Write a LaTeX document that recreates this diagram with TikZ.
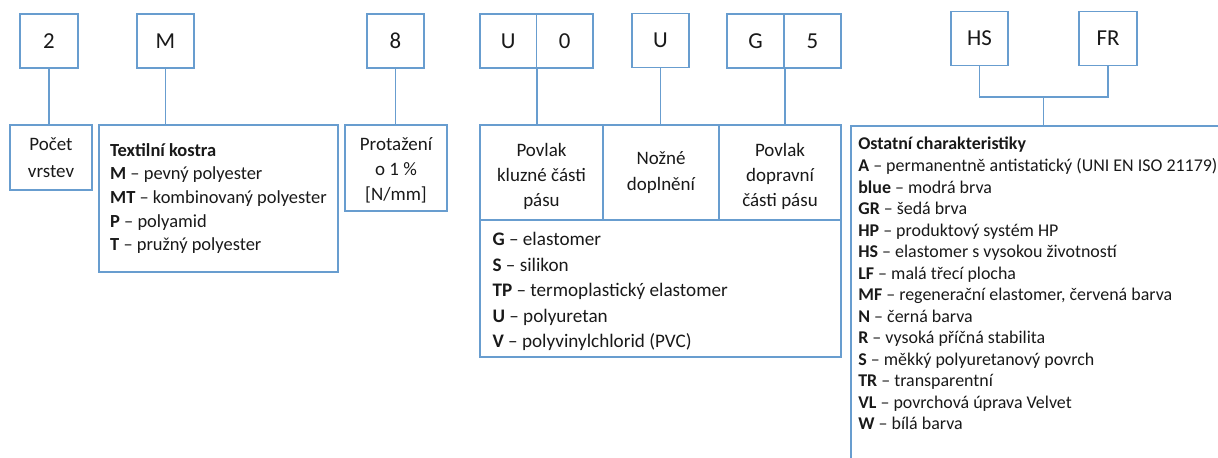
\documentclass[tikz,border=0pt]{standalone}
\usepackage{fontspec}
\setmainfont{Carlito}
\usepackage{tikz}
\definecolor{Frame}{RGB}{104,157,207}
\definecolor{Ink}{RGB}{25,25,25}
\newcommand{\Item}[2]{\textbf{#1} -- #2}% code, meaning
\newcommand{\Fs}[2]{\fontsize{#1}{#2}\selectfont}% size, skip
\newcommand{\Lift}[1]{\rule{0pt}{#1}}% taller first line, text sits lower
\tikzset{
  codebox/.style={draw=Frame,line width=1.1pt,inner sep=0pt,text=Ink,
    minimum width=1.14cm,minimum height=1.08cm,font=\Fs{13}{15}},
  infobox/.style={draw=Frame,line width=1.1pt,inner sep=0pt,text=Ink,align=center},
  listbox/.style={infobox,align=flush left,inner xsep=0.25cm},
  link/.style={draw=Frame,line width=1.1pt},
}

\begin{document}
\begin{tikzpicture}[x=0.02cm,y=-0.02cm]
\useasboundingbox (0,0) rectangle (1218,457);
% code letters on the top row
\node[codebox,minimum width=1.16cm] (vrstvy) at (49,41) {2};
\node[codebox] (tkanina) at (165.5,41) {M};
\node[codebox] (tazeni) at (395.5,41) {8};
\node[codebox,minimum width=1.13cm] (kluzU) at (508.25,41) {U};
\node[codebox,minimum width=1.13cm] (kluz0) at (564.75,41) {0};
\node[codebox] (doplnek) at (660.5,40.5) {U};
\node[codebox] (doprG) at (755.5,41) {G};
\node[codebox] (dopr5) at (812.5,41) {5};
\node[codebox] (hs) at (979.5,38.5) {HS};
\node[codebox,minimum width=1.16cm] (fr) at (1108,38.5) {FR};

% explanation boxes
\node[infobox,minimum width=1.64cm,minimum height=1.3cm,font=\Fs{10.8}{15.3}]
  (pocet) at (51,157.5) {Počet\\vrstev};
\node[infobox,align=flush left,minimum width=4.78cm,minimum height=2.94cm,font=\Fs{10.5}{13.4}]
  (kostra) at (218.5,198.5) {\textbf{Textilní kostra}\\
  \Item{M}{pevný polyester}\\
  \Item{MT}{kombinovaný polyester}\\
  \Item{P}{polyamid}\\
  \Item{T}{pružný polyester}};
\node[infobox,minimum width=2.04cm,minimum height=1.72cm,font=\Fs{10.8}{14.5}]
  (protazeni) at (396,168) {\Lift{10pt}Protažení\\o 1 \%\\{[N/mm]}};

\node[infobox,minimum width=2.46cm,minimum height=1.9cm,font=\Fs{10.8}{14.5}]
  (kluzna) at (541.5,172.5) {\Lift{12pt}Povlak\\kluzné části\\pásu};
\node[infobox,minimum width=2.32cm,minimum height=1.9cm,font=\Fs{10.8}{14.5}]
  (nozne) at (661,172.5) {Nožné\\doplnění};
\node[infobox,minimum width=2.44cm,minimum height=1.9cm,font=\Fs{10.8}{14.5}]
  (dopravni) at (780,172.5) {\Lift{12pt}Povlak\\dopravní\\části pásu};
\node[listbox,text width=6.72cm,minimum height=2.74cm,font=\Fs{10.9}{14.5}]
  (povlaky) at (660.5,288.5) {\Lift{11pt}\Item{G}{elastomer}\\
  \Item{S}{silikon}\\
  \Item{TP}{termoplastický elastomer}\\
  \Item{U}{polyuretan}\\
  \Item{V}{polyvinylchlorid (PVC)}};

% the last box runs past the page edge
\begin{scope}
\clip (0,0) rectangle (1218,457);
\node[infobox,anchor=north west,minimum width=8cm,minimum height=7.2cm] (ostatni) at (850,125) {};
\end{scope}
\node[anchor=north west,inner sep=0pt,align=flush left,text=Ink,font=\Fs{10.2}{12.25}]
  (ostatnitext) at (858,137) {\textbf{Ostatní charakteristiky}\\
  \Item{A}{permanentně antistatický (UNI EN ISO 21179)}\\
  \Item{blue}{modrá brva}\\
  \Item{GR}{šedá brva}\\
  \Item{HP}{produktový systém HP}\\
  \Item{HS}{elastomer s vysokou životností}\\
  \Item{LF}{malá třecí plocha}\\
  \Item{MF}{regenerační elastomer, červená barva}\\
  \Item{N}{černá barva}\\
  \Item{R}{vysoká příčná stabilita}\\
  \Item{S}{měkký polyuretanový povrch}\\
  \Item{TR}{transparentní}\\
  \Item{VL}{povrchová úprava Velvet}\\
  \Item{W}{bílá barva}};

% connectors
\draw[link] (vrstvy.south) -- (vrstvy.south |- pocet.north);
\draw[link] (tkanina.south) -- (tkanina.south |- kostra.north);
\draw[link] (tazeni.south) -- (tazeni.south |- protazeni.north);
\draw[link] (kluzU.south east) -- (kluzU.south east |- kluzna.north);
\draw[link] (doplnek.south) -- (doplnek.south |- nozne.north);
\draw[link] (doprG.south east) -- (doprG.south east |- dopravni.north);
\coordinate (join) at (1043.5,97);
\draw[link] (hs.south) |- (join) -| (fr.south);
\draw[link] (join) -- (join |- ostatni.north);
\end{tikzpicture}
\end{document}
